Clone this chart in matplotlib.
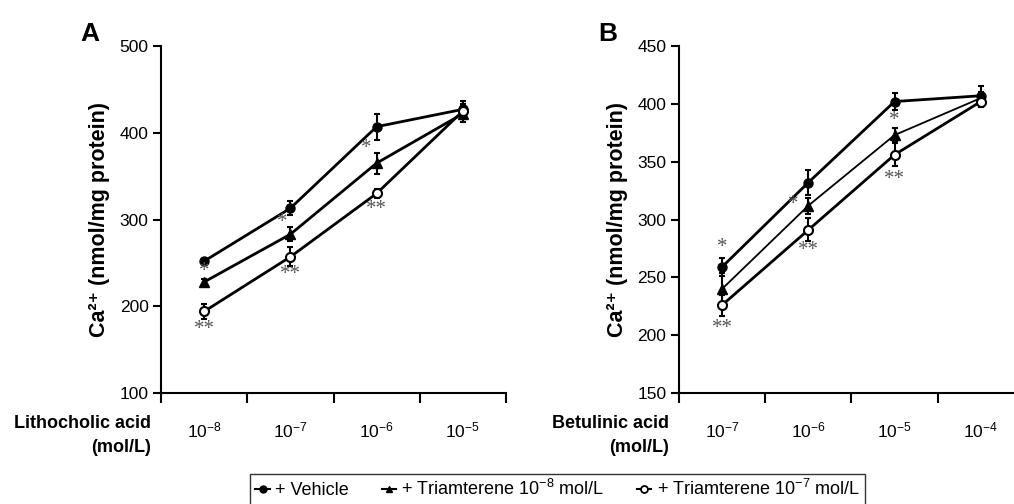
import matplotlib
matplotlib.use('Agg')
import matplotlib.pyplot as plt
from matplotlib.lines import Line2D
import numpy as np

plt.rcParams['font.family'] = ['Liberation Sans', 'DejaVu Sans']
plt.rcParams['mathtext.fontset'] = 'custom'
plt.rcParams['mathtext.rm'] = 'Liberation Sans'
plt.rcParams['mathtext.it'] = 'Liberation Sans:italic'
plt.rcParams['mathtext.bf'] = 'Liberation Sans:bold'

# panel A: lithocholic acid
lca_ticks = ['$10^{-8}$', '$10^{-7}$', '$10^{-6}$', '$10^{-5}$']
lca_vehicle = [252, 313, 407, 427]
lca_vehicle_err = [3, 8, 15, 10]
lca_tri8 = [228, 283, 365, 422]
lca_tri8_err = [3, 8, 12, 10]
lca_tri7 = [194, 257, 330, 425]
lca_tri7_err = [9, 11, 5, 8]

# panel B: betulinic acid
ba_ticks = ['$10^{-7}$', '$10^{-6}$', '$10^{-5}$', '$10^{-4}$']
ba_vehicle = [259, 332, 402, 407]
ba_vehicle_err = [8, 11, 7, 8]
ba_tri8 = [240, 312, 373, 405]
ba_tri8_err = [14, 7, 6, 5]
ba_tri7 = [226, 291, 356, 402]
ba_tri7_err = [9, 10, 10, 5]

legend_labels = ['+ Vehicle', '+ Triamterene $10^{-8}$ mol/L', '+ Triamterene $10^{-7}$ mol/L']

# significance marks: (category, value, text, x offset)
lca_stars = [(0, 240, '*', 0), (1, 297, '*', -0.1), (2, 382, '*', -0.12),
             (0, 173, '**', 0), (1, 237, '**', 0), (2, 312, '**', 0)]
ba_stars = [(0, 276, '*', 0), (1, 313, '*', -0.18), (2, 386, '*', 0),
            (0, 206, '**', 0), (1, 273, '**', 0), (2, 335, '**', 0)]

fig = plt.figure(figsize=(10.14, 5.04), dpi=100)
axA = fig.add_axes([0.1588, 0.2202, 0.3402, 0.6885])
axB = fig.add_axes([0.6696, 0.2202, 0.3402, 0.6885])


def draw(ax, ticks, veh, veh_e, t8, t8_e, t7, t7_e, stars, ylim, yticks, xname, letter, t8_lw):
    x = np.arange(len(ticks))
    eb = dict(capsize=2.5, elinewidth=1.5, capthick=1.5, color='black')
    ax.errorbar(x, veh, yerr=veh_e, lw=2, marker='o', ms=6.5, **eb)
    ax.errorbar(x, t8, yerr=t8_e, lw=t8_lw, marker='^', ms=6.5, **eb)
    ax.errorbar(x, t7, yerr=t7_e, lw=2, marker='o', ms=6.5, mfc='white', mew=1.5, **eb)
    for cx, cy, s, dx in stars:
        ax.text(cx + dx, cy, s, ha='center', va='center', fontsize=15,
                color='#555555', family='Liberation Serif')
    ax.set_xlim(-0.5, len(ticks) - 0.5)
    ax.set_ylim(*ylim)
    ax.set_yticks(yticks)
    ax.set_xticks(np.arange(len(ticks) + 1) - 0.5)
    ax.set_xticklabels([])
    ax.set_xticks(x, minor=True)
    ax.set_xticklabels(ticks, minor=True, fontsize=12.5)
    ax.tick_params(axis='x', which='minor', length=0, pad=20)
    ax.tick_params(axis='x', which='major', direction='out', length=7, width=1.5)
    ax.tick_params(axis='y', direction='out', length=6, width=1.5, labelsize=12.5, pad=3)
    for sp in ['top', 'right']:
        ax.spines[sp].set_visible(False)
    for sp in ['left', 'bottom']:
        ax.spines[sp].set_linewidth(1.5)
    ax.set_ylabel('Ca²⁺ (nmol/mg protein)', fontsize=15.5, fontweight='bold', labelpad=7)
    ax.text(-0.03, -0.062, xname, transform=ax.transAxes, ha='right', va='top',
            fontsize=13, fontweight='bold', linespacing=1.55)
    ax.text(-0.235, 1.0, letter, transform=ax.transAxes, ha='left', va='bottom',
            fontsize=19, fontweight='bold')


draw(axA, lca_ticks, lca_vehicle, lca_vehicle_err, lca_tri8, lca_tri8_err,
     lca_tri7, lca_tri7_err, lca_stars, (100, 500), [100, 200, 300, 400, 500],
     'Lithocholic acid\n(mol/L)', 'A', 2)
draw(axB, ba_ticks, ba_vehicle, ba_vehicle_err, ba_tri8, ba_tri8_err,
     ba_tri7, ba_tri7_err, ba_stars, (150, 450), [150, 200, 250, 300, 350, 400, 450],
     'Betulinic acid\n(mol/L)', 'B', 1.3)

handles = [Line2D([], [], color='black', lw=1.5, marker='o', ms=5),
           Line2D([], [], color='black', lw=1.5, marker='^', ms=5),
           Line2D([], [], color='black', lw=1.5, marker='o', ms=5, mfc='white', mew=1.3)]
leg = fig.legend(handles, legend_labels,
                 loc='center', bbox_to_anchor=(0.55, 0.029), ncol=3, fontsize=13,
                 frameon=True, fancybox=False, edgecolor='black', handlelength=0.8,
                 handletextpad=0.3, columnspacing=1.8, borderpad=0.3, borderaxespad=0)
leg.get_frame().set_linewidth(1.0)

fig.savefig('out.png', dpi=100)
